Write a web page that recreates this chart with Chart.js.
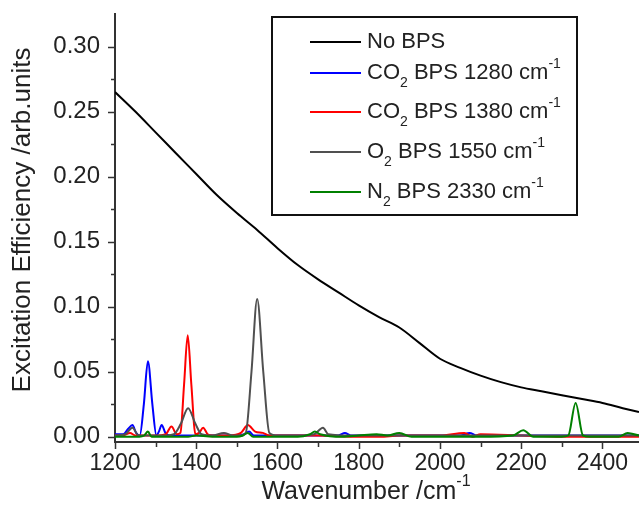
<!DOCTYPE html>
<html><head><meta charset="utf-8">
<script src="https://cdn.jsdelivr.net/npm/chart.js@4/dist/chart.umd.min.js"></script>
<style>html,body{margin:0;padding:0;background:#fff;}#wrap{width:639px;height:508px;position:relative;}</style>
</head><body><div id="wrap"><canvas id="c" width="639" height="508"></canvas></div>
<script>
// ---- data ----
const noBpsX = [1200,1250,1300,1350,1400,1450,1500,1550,1600,1650,1700,1750,1800,1850,1900,1950,2000,2050,2100,2150,2200,2250,2300,2350,2400,2450,2490];
const noBpsY = [0.265,0.250,0.234,0.218,0.202,0.186,0.172,0.159,0.145,0.132,0.121,0.111,0.101,0.092,0.084,0.072,0.060,0.053,0.047,0.042,0.038,0.035,0.032,0.029,0.026,0.022,0.019];

const co2aX = [1200,1220,1232,1243,1252,1261,1271,1281,1292,1302,1308,1315,1324,1335,1360,1400,1450,1500,1518,1530,1542,1560,1600,1650,1700,1750,1766,1780,1850,1950,2050,2073,2090,2200,2300,2400,2490];
const co2aY = [0.002,0.002,0.006,0.009,0.003,0.001,0.025,0.058,0.025,0.001,0.004,0.009,0.003,0.001,0.001,0.001,0.001,0.001,0.002,0.004,0.001,0.001,0.001,0.001,0.001,0.001,0.003,0.001,0.001,0.001,0.001,0.003,0.001,0.001,0.001,0.001,0.001];

const co2bX = [1200,1220,1237,1250,1270,1300,1325,1339,1352,1361,1370,1379,1388,1398,1407,1417,1428,1440,1480,1510,1527,1545,1564,1580,1600,1700,1800,1852,1900,2000,2060,2080,2100,2200,2300,2400,2490];
const co2bY = [0.001,0.001,0.003,0.001,0.001,0.001,0.002,0.008,0.002,0.003,0.040,0.078,0.040,0.002,0.003,0.007,0.002,0.001,0.001,0.003,0.009,0.004,0.003,0.001,0.001,0.001,0.000,0.000,0.001,0.001,0.003,0.000,0.002,0.001,0.000,0.000,0.000];

const o2X = [1200,1225,1243,1258,1280,1320,1345,1362,1380,1398,1413,1440,1468,1490,1510,1522,1536,1550,1565,1580,1600,1650,1690,1712,1725,1780,1900,2000,2100,2200,2300,2400,2490];
const o2Y = [0.001,0.002,0.007,0.001,0.001,0.001,0.002,0.010,0.022,0.010,0.002,0.001,0.003,0.001,0.001,0.003,0.050,0.106,0.050,0.003,0.001,0.001,0.002,0.007,0.002,0.001,0.001,0.001,0.001,0.001,0.001,0.001,0.001];

const n2X = [1200,1260,1272,1281,1290,1320,1380,1400,1450,1500,1515,1527,1540,1600,1650,1680,1692,1705,1760,1800,1844,1870,1900,1930,2000,2100,2180,2205,2230,2300,2316,2334,2352,2370,2440,2462,2490];
const n2Y = [0.000,0.000,0.001,0.004,0.000,0.000,0.000,0.001,0.000,0.000,0.001,0.003,0.000,0.000,0.000,0.002,0.004,0.002,0.000,0.001,0.002,0.001,0.003,0.000,0.000,0.000,0.001,0.005,0.000,0.000,0.001,0.026,0.001,0.000,0.000,0.003,0.001];

const seriesNames = ['No BPS','CO2 BPS 1280 cm-1','CO2 BPS 1380 cm-1','O2 BPS 1550 cm-1','N2 BPS 2330 cm-1'];
const seriesColors = ['#000000','#0000ff','#ff0000','#505050','#008000'];
// legend labels with sub/superscript parts
const legendParts = [
  [['No BPS','n']],
  [['CO','n'],['2','sub'],[' BPS 1280 cm','n'],['-1','sup']],
  [['CO','n'],['2','sub'],[' BPS 1380 cm','n'],['-1','sup']],
  [['O','n'],['2','sub'],[' BPS 1550 cm','n'],['-1','sup']],
  [['N','n'],['2','sub'],[' BPS 2330 cm','n'],['-1','sup']]
];
const xMajorTicks = [1200,1400,1600,1800,2000,2200,2400];
const xMinorTicks = [1300,1500,1700,1900,2100,2300];
const yMajorTicks = [0,0.05,0.10,0.15,0.20,0.25,0.30];
const yMinorTicks = [0.025,0.075,0.125,0.175,0.225,0.275];
const xTitle = 'Wavenumber /cm';
const xTitleSup = '-1';
const yTitle = 'Excitation Efficiency /arb.units';

const FONT = '"Liberation Sans", Arial, Helvetica, sans-serif';
const allX = [noBpsX, co2aX, co2bX, o2X, n2X];
const allY = [noBpsY, co2aY, co2bY, o2Y, n2Y];
const drawOrder = [4,3,2,1,0];

const datasets = allX.map((xs, i) => ({
  label: seriesNames[i],
  data: xs.map((x, j) => ({x: x, y: allY[i][j]})),
  borderColor: seriesColors[i],
  backgroundColor: seriesColors[i],
  borderWidth: 2,
  pointRadius: 0,
  fill: false,
  cubicInterpolationMode: 'monotone',
  order: drawOrder[i]
}));

function drawParts(ctx, parts, x, y, size) {
  let cx = x;
  for (const [t, kind] of parts) {
    if (kind === 'n') {
      ctx.font = size + 'px ' + FONT;
      ctx.fillText(t, cx, y);
    } else if (kind === 'sub') {
      ctx.font = Math.round(size * 0.62) + 'px ' + FONT;
      ctx.fillText(t, cx, y + size * 0.45);
    } else {
      ctx.font = Math.round(size * 0.62) + 'px ' + FONT;
      ctx.fillText(t, cx, y - size * 0.42);
    }
    cx += ctx.measureText(t).width;
  }
  return cx - x;
}

const decor = {
  id: 'decor',
  afterDraw(chart) {
    const ctx = chart.ctx, a = chart.chartArea, sx = chart.scales.x, sy = chart.scales.y;
    ctx.save();
    ctx.strokeStyle = '#333';
    ctx.lineWidth = 1.5;
    ctx.beginPath();
    for (const v of yMajorTicks) { const p = Math.round(sy.getPixelForValue(v)) + 0.5; ctx.moveTo(a.left, p); ctx.lineTo(a.left - 7, p); }
    for (const v of yMinorTicks) { const p = Math.round(sy.getPixelForValue(v)) + 0.5; ctx.moveTo(a.left, p); ctx.lineTo(a.left - 4, p); }
    for (const v of xMajorTicks) { const p = Math.round(sx.getPixelForValue(v)) + 0.5; ctx.moveTo(p, a.bottom); ctx.lineTo(p, a.bottom + 7); }
    for (const v of xMinorTicks) { const p = Math.round(sx.getPixelForValue(v)) + 0.5; ctx.moveTo(p, a.bottom); ctx.lineTo(p, a.bottom + 5); }
    ctx.stroke();

    // axis titles
    ctx.fillStyle = '#222';
    ctx.textBaseline = 'middle';
    ctx.textAlign = 'left';
    const tsize = 25;
    ctx.font = tsize + 'px ' + FONT;
    const w1 = ctx.measureText(xTitle).width;
    ctx.font = Math.round(tsize * 0.62) + 'px ' + FONT;
    const w2 = ctx.measureText(xTitleSup).width;
    const xStart = 366 - (w1 + w2) / 2;
    drawParts(ctx, [[xTitle,'n'],[xTitleSup,'sup']], xStart, 492, tsize);

    ctx.save();
    ctx.translate(23, 220);
    ctx.rotate(-Math.PI / 2);
    ctx.textAlign = 'center';
    ctx.font = '26px ' + FONT;
    ctx.fillText(yTitle, 0, 0);
    ctx.restore();

    // legend
    ctx.fillStyle = '#fff';
    ctx.fillRect(272, 17, 305, 198);
    ctx.strokeStyle = '#111';
    ctx.lineWidth = 2;
    ctx.strokeRect(272, 17, 305, 198);
    const rows = [42, 73, 112, 152, 192];
    chart.data.datasets.forEach((ds, i) => {
      ctx.strokeStyle = ds.borderColor;
      ctx.lineWidth = 2;
      ctx.beginPath();
      ctx.moveTo(310, rows[i]);
      ctx.lineTo(361, rows[i]);
      ctx.stroke();
      ctx.fillStyle = '#222';
      ctx.textAlign = 'left';
      ctx.textBaseline = 'middle';
      drawParts(ctx, legendParts[i], 367, rows[i], 22);
    });
    ctx.restore();
  }
};

new Chart(document.getElementById('c'), {
  type: 'line',
  data: { datasets: datasets },
  options: {
    responsive: false,
    animation: false,
    devicePixelRatio: 1,
    layout: { padding: { top: 14, right: 0, left: 0, bottom: 0 } },
    plugins: { legend: { display: false }, tooltip: { enabled: false } },
    scales: {
      x: {
        type: 'linear', min: 1200, max: 2490,
        afterFit(s) { s.height = 66; s.paddingLeft = 0; s.paddingRight = 0; },
        grid: { display: false, drawTicks: false },
        border: { display: true, color: '#333', width: 2 },
        ticks: { stepSize: 200, includeBounds: false, padding: 8, color: '#222', maxRotation: 0, autoSkip: false,
                 font: { family: FONT, size: 23 }, callback: v => String(v) }
      },
      y: {
        type: 'linear', min: -0.004, max: 0.325,
        afterFit(s) { s.width = 115; s.paddingTop = 0; s.paddingBottom = 0; },
        grid: { display: false, drawTicks: false },
        border: { display: true, color: '#333', width: 2 },
        ticks: { stepSize: 0.05, includeBounds: false, padding: 15, color: '#222',
                 font: { family: FONT, size: 24 }, callback: v => Number(v).toFixed(2) }
      }
    }
  },
  plugins: [decor]
});
</script>
</body></html>
